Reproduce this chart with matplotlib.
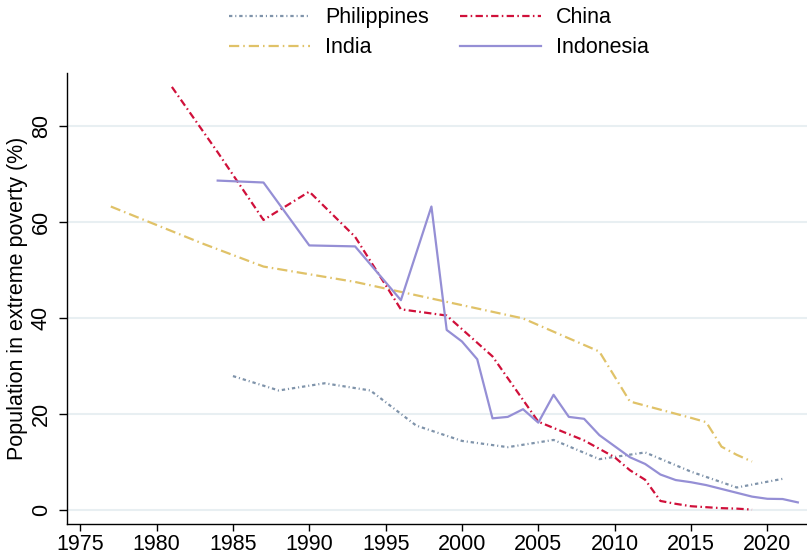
import numpy as np
import matplotlib
matplotlib.use("Agg")
import matplotlib.pyplot as plt

plt.rcParams["font.family"] = ["Liberation Sans", "DejaVu Sans"]

# Data
phl_years = [1985, 1988, 1991, 1994, 1997, 2000, 2003, 2006, 2009, 2012, 2015, 2018, 2021]
phl_vals = [27.9, 24.9, 26.4, 24.9, 17.6, 14.4, 13.1, 14.6, 10.6, 12.0, 8.0, 4.7, 6.5]

ind_years = [1977, 1983, 1987, 1993, 2004, 2009, 2011, 2015, 2016, 2017, 2018, 2019]
ind_vals = [63.2, 55.5, 50.7, 47.5, 39.9, 33.0, 22.6, 19.2, 18.3, 13.2, 11.5, 10.1]

chn_years = [1981, 1984, 1987, 1990, 1993, 1996, 1999, 2002, 2005, 2008, 2010,
             2011, 2012, 2013, 2014, 2015, 2016, 2017, 2018, 2019]
chn_vals = [88.1, 74.5, 60.4, 66.3, 56.9, 41.8, 40.5, 32.0, 18.4, 14.5, 11.0,
            8.3, 6.3, 1.9, 1.3, 0.8, 0.6, 0.4, 0.3, 0.1]

idn_years = [1984, 1987, 1990, 1993, 1996, 1998] + list(range(1999, 2023))
idn_vals = [68.6, 68.2, 55.1, 54.9, 43.7, 63.2,
            37.5, 35.1, 31.4, 19.1, 19.4, 21.0, 18.2, 24.0, 19.4, 19.0, 15.6, 13.3,
            11.0, 9.6, 7.4, 6.25, 5.8, 5.2, 4.4, 3.6, 2.8, 2.35, 2.3, 1.6]

fig = plt.figure(figsize=(8.07, 5.59), dpi=100)
ax = fig.add_axes([67 / 807, 1 - 524 / 559, 1 - 67 / 807, (524 - 73) / 559])

lw = 1.6
ax.plot(phl_years, phl_vals, color="#7f93aa", lw=lw, dashes=(1.5, 1.3, 0.5, 1.3), label="Philippines")
ax.plot(ind_years, ind_vals, color="#e0c268", lw=lw, dashes=(4.6, 1.8, 0.7, 1.8), label="India")
ax.plot(chn_years, chn_vals, color="#d0103a", lw=lw, dashes=(3.3, 1.5, 0.7, 1.5), label="China")
ax.plot(idn_years, idn_vals, color="#958fd5", lw=lw, label="Indonesia")

ax.set_xlim(1974.13, 2022.6)
ax.set_ylim(-2.9, 91.0)
ax.set_xticks(np.arange(1975, 2021, 5))
ax.set_yticks([0, 20, 40, 60, 80])

ax.grid(axis="y", color="#e8eff2", lw=1.5)
ax.set_axisbelow(True)
for s in ["top", "right"]:
    ax.spines[s].set_visible(False)
for s in ["left", "bottom"]:
    ax.spines[s].set_linewidth(1.0)

ax.tick_params(axis="x", labelsize=15.5, length=5, width=1.0, pad=2.5)
ax.tick_params(axis="y", labelsize=15.5, length=6, width=1.0, pad=5)
for t in ax.get_yticklabels():
    t.set_rotation(90)
    t.set_va("center")

ax.set_ylabel("Population in extreme poverty (%)", fontsize=15.5, labelpad=2)

fig.legend(loc="upper center", bbox_to_anchor=(439 / 807, 1.022), ncol=2,
           frameon=False, fontsize=15.5, handlelength=3.75, handletextpad=0.7,
           columnspacing=1.45, labelspacing=0.42)

fig.savefig("out.png", dpi=100)
